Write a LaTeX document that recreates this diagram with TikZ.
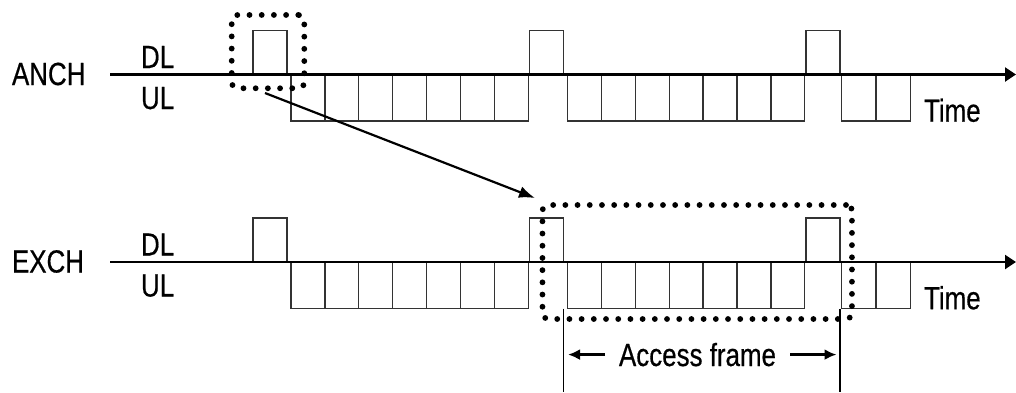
\documentclass[tikz,border=0pt]{standalone}
\usepackage{fontspec}
\setmainfont{Liberation Sans}[FakeStretch=0.81, FakeBold=0.5]
\usetikzlibrary{arrows.meta}

\begin{document}
\begin{tikzpicture}[
    x=1pt, y=-1pt,
    every node/.style={font=\fontsize{32}{36}\selectfont, inner sep=0pt, outer sep=0pt},
    time axis/.style={line width=2.3pt, -{Triangle[length=11pt, width=14pt]}},
    dl slot/.style={draw=black!80, line width=1.3pt, minimum width=34pt, minimum height=44pt, anchor=south west},
    ul slot/.style={draw=black!80, line width=1.3pt, minimum width=33.9pt, minimum height=46.5pt, anchor=north west},
    row label/.style={anchor=base west},
    dot box/.style={draw, line width=5.8pt, line cap=round, dash pattern=on 0pt off 12.2pt, rounded corners=6pt},
    link arrow/.style={line width=2.2pt, -{Latex[length=16pt, width=12pt]}},
    frame edge/.style={line width=1.8pt},
    frame arrow/.style={line width=2.5pt, -{Latex[length=12pt, width=11pt]}}
]
    \useasboundingbox (0,0) rectangle (1016,392);

    % two channels, same frame layout
    \foreach \row/\ay/\lab in {anch/74.5/ANCH, exch/262/EXCH} {
      \coordinate (\row-start) at (110,\ay);
      \coordinate (\row-end) at (1016,\ay);
      \node[row label] (\row-name) at (12,\ay+10.5) {\lab};
      \node[row label] (\row-dl) at (141,\ay-6.5) {DL};
      \node[row label] (\row-ul) at (141,\ay+34.5) {UL};
      \node[row label] (\row-time) at (924,\ay+47.2) {Time};

      \foreach \k in {0,1,2}
        \node[dl slot] (\row-dl-\k) at (253+276.5*\k,\ay) {};
      \foreach \k in {0,1}
        \foreach \s in {0,...,6}
          \node[ul slot] (\row-ul-\k-\s) at (291+276.5*\k+33.9*\s,\ay) {};
      \foreach \s in {0,1}
        \node[ul slot, minimum width=34.4pt] (\row-ul-2-\s) at (841.5+34.4*\s,\ay) {};

      \draw[time axis] (\row-start) -- (\row-end);
    }

    % dotted selections
    \node[dot box, minimum width=72.6pt, minimum height=73.3pt] (sel-dl) at (268,51.6) {};
    \node[dot box, minimum width=309.5pt, minimum height=114pt] (sel-frame) at (697.2,262) {};

    \coordinate (link-from) at (265,93);
    \coordinate (link-to) at (535,198);
    \draw[link arrow] (link-from) -- (link-to);

    % access frame span
    \coordinate (frame-left-top) at (exch-dl-1.south east |- exch-ul-1-0.south);
    \coordinate (frame-left-bot) at (frame-left-top |- 0,392);
    \coordinate (frame-right-top) at (exch-dl-2.south east |- exch-ul-2-0.south);
    \coordinate (frame-right-bot) at (frame-right-top |- 0,392);
    \draw[frame edge] (frame-left-top) -- (frame-left-bot);
    \draw[frame edge] (frame-right-top) -- (frame-right-bot);

    \node[row label, inner xsep=14pt] (frame-label) at (605,366) {Access frame};
    \draw[frame arrow, shorten >=4.5pt] (frame-label.west) -- (frame-label.west -| frame-left-top);
    \draw[frame arrow, shorten >=3.5pt] (frame-label.east) -- (frame-label.east -| frame-right-top);
\end{tikzpicture}
\end{document}
